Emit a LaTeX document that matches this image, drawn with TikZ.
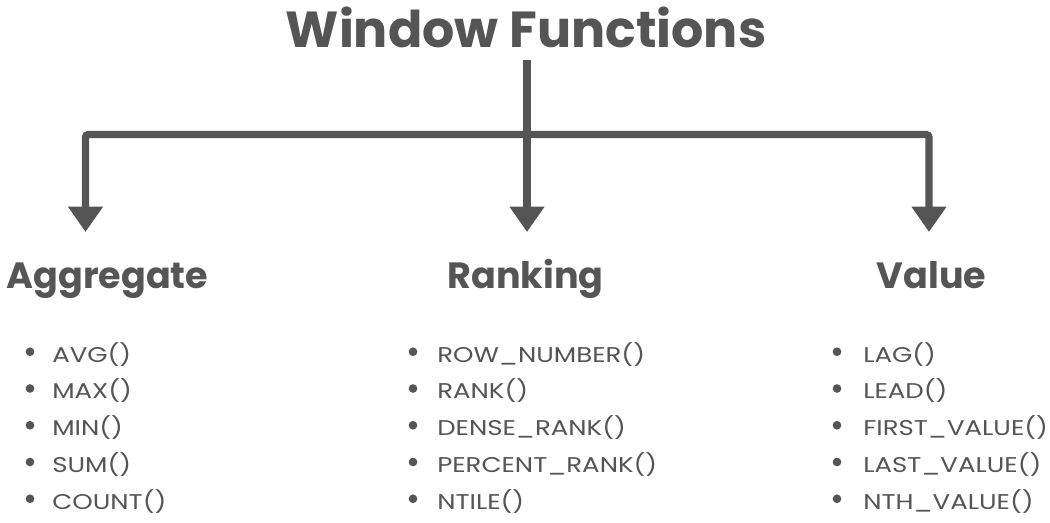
\documentclass[tikz,border=0pt]{standalone}
\usepackage{fontspec}
\setmainfont{Poppins}
\newfontfamily\entryfont[FakeStretch=1.22]{Poppins}
\usetikzlibrary{arrows.meta}
\definecolor{ink}{RGB}{85,85,85}

\tikzset{
  title/.style={anchor=base, font=\bfseries\fontsize{38}{44}\selectfont, text=ink, inner sep=0pt},
  heading/.style={anchor=base, font=\bfseries\fontsize{27.4}{32}\selectfont, text=ink, inner sep=0pt},
  entry/.style={anchor=base west, font=\entryfont\fontsize{16}{19}\selectfont, text=ink, inner sep=0pt},
  dot/.style={circle, fill=ink, inner sep=0pt, minimum size=6.5pt},
  link/.style={draw=ink, line width=5.4pt, rounded corners=2pt},
  arrow/.style={link, -{Triangle[width=25pt,length=19pt]}}
}

\begin{document}
\begin{tikzpicture}[x=0.75pt,y=-0.75pt]
    \useasboundingbox[fill=white] (0,0) rectangle (1050,522);

    \node[title] (title) at (526,47) {Window Functions};

    \coordinate (stem) at (527,60);
    \coordinate (mid) at (527,134.5);
    \coordinate (aggtip) at (85.5,232);
    \coordinate (rnktip) at (527,232);
    \coordinate (valtip) at (929,232);

    \draw[link] (stem) -- (mid);
    \draw[arrow] (mid) -| (aggtip);
    \draw[arrow] (mid) -- (rnktip);
    \draw[arrow] (mid) -| (valtip);

    \node[heading] (agg) at (107.5,288) {Aggregate};
    \node[heading] (rnk) at (525.5,288) {Ranking};
    \node[heading] (val) at (931.5,288) {Value};

    % aggregate functions
    \foreach \name [count=\i] in {AVG(),MAX(),MIN(),SUM(),COUNT()} {
        \node[dot] (aggdot-\i) at (30,{315+36.75*\i}) {};
        \node[entry] (agg-\i) at (52,{325.25+36.75*\i}) {\name};
    }
    % ranking functions
    \foreach \name [count=\i] in {ROW\_NUMBER(),RANK(),DENSE\_RANK(),PERCENT\_RANK(),NTILE()} {
        \node[dot] (rnkdot-\i) at (413,{315+36.75*\i}) {};
        \node[entry] (rnk-\i) at (437,{325.25+36.75*\i}) {\name};
    }
    % value functions
    \foreach \name [count=\i] in {LAG(),LEAD(),FIRST\_VALUE(),LAST\_VALUE(),NTH\_VALUE()} {
        \node[dot] (valdot-\i) at (837,{315+36.75*\i}) {};
        \node[entry] (val-\i) at (863,{325.25+36.75*\i}) {\name};
    }
\end{tikzpicture}
\end{document}
